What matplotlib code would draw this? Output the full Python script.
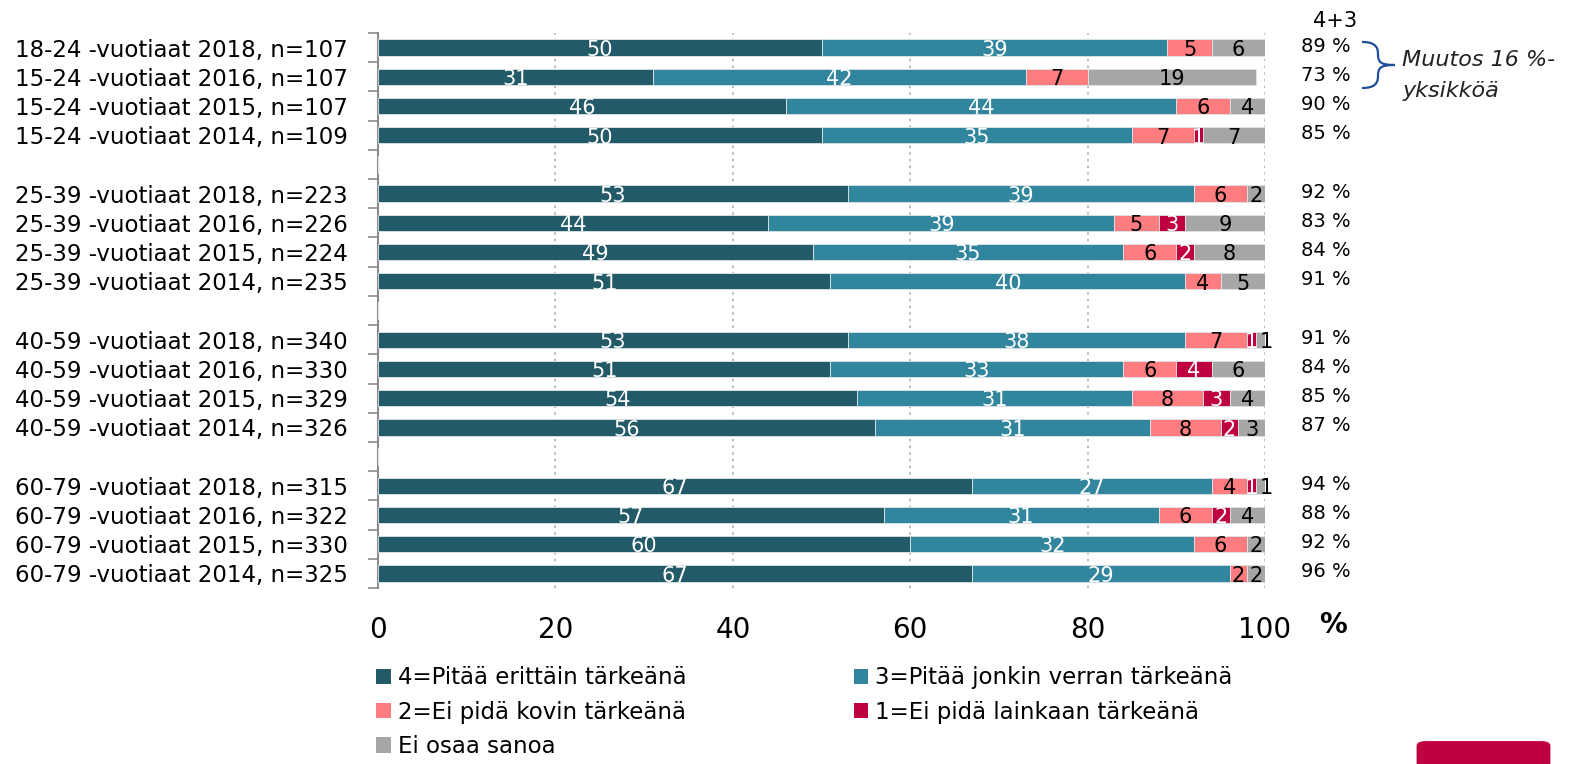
import numpy as np
import matplotlib.pyplot as plt
from matplotlib.patches import Patch, FancyBboxPatch, PathPatch
from matplotlib.path import Path

plt.rcParams['font.family'] = ['DejaVu Sans']

labels = [
    "18-24 -vuotiaat 2018, n=107", "15-24 -vuotiaat 2016, n=107",
    "15-24 -vuotiaat 2015, n=107", "15-24 -vuotiaat 2014, n=109", "",
    "25-39 -vuotiaat 2018, n=223", "25-39 -vuotiaat 2016, n=226",
    "25-39 -vuotiaat 2015, n=224", "25-39 -vuotiaat 2014, n=235", "",
    "40-59 -vuotiaat 2018, n=340", "40-59 -vuotiaat 2016, n=330",
    "40-59 -vuotiaat 2015, n=329", "40-59 -vuotiaat 2014, n=326", "",
    "60-79 -vuotiaat 2018, n=315", "60-79 -vuotiaat 2016, n=322",
    "60-79 -vuotiaat 2015, n=330", "60-79 -vuotiaat 2014, n=325",
]
v4 = [50, 31, 46, 50, 0, 53, 44, 49, 51, 0, 53, 51, 54, 56, 0, 67, 57, 60, 67]
v3 = [39, 42, 44, 35, 0, 39, 39, 35, 40, 0, 38, 33, 31, 31, 0, 27, 31, 32, 29]
v2 = [5, 7, 6, 7, 0, 6, 5, 6, 4, 0, 7, 6, 8, 8, 0, 4, 6, 6, 2]
v1 = [0, 0, 0, 1, 0, 0, 3, 2, 0, 0, 1, 4, 3, 2, 0, 1, 2, 0, 0]
veos = [6, 19, 4, 7, 0, 2, 9, 8, 5, 0, 1, 6, 4, 3, 0, 1, 4, 2, 2]
sum43 = ["89 %", "73 %", "90 %", "85 %", "", "92 %", "83 %", "84 %", "91 %", "",
         "91 %", "84 %", "85 %", "87 %", "", "94 %", "88 %", "92 %", "96 %"]

series = [v4, v3, v2, v1, veos]
names = ["4=Pitää erittäin tärkeänä", "3=Pitää jonkin verran tärkeänä",
         "2=Ei pidä kovin tärkeänä", "1=Ei pidä lainkaan tärkeänä", "Ei osaa sanoa"]
colors = ["#235A68", "#31859C", "#FF7C80", "#BE0041", "#A6A6A6"]
txtcol = ["white", "white", "black", "white", "black"]

fig = plt.figure(figsize=(15.74, 7.64), dpi=100)
ax = fig.add_axes([0.2402, 0.2304, 0.5635, 0.7264])

y = np.arange(len(labels))
left = np.zeros(len(labels))
for vals, c, tc in zip(series, colors, txtcol):
    vals = np.array(vals, dtype=float)
    bars = ax.barh(y, vals, left=left, height=0.56, color=c, edgecolor="#dde6ea",
                   linewidth=0.6, zorder=3)
    for yi, (l, v) in enumerate(zip(left, vals)):
        if v > 0:
            xpos = l + v / 2
            if v == 1 and c == "#A6A6A6":
                xpos = 100.1
            t = ax.text(xpos, yi + 0.08, f"{int(v)}", ha="center", va="center",
                        color=tc, fontsize=15, zorder=4)
            if v == 1 and c == "#BE0041":
                t.set_clip_path(bars[yi])
    left += vals

ax.set_ylim(len(labels) - 0.5, -0.5)
ax.set_xlim(0, 100)
ax.set_yticks(y)
ax.set_yticklabels(labels, fontsize=16.5)
ax.set_yticks(np.arange(-0.5, len(labels), 1), minor=True)
ax.tick_params(axis="y", which="major", length=0, pad=22)
ax.tick_params(axis="y", which="minor", length=7, color="#8c8c8c", width=1.2)
ax.set_xticks([0, 20, 40, 60, 80, 100])
ax.tick_params(axis="x", length=0, labelsize=20, pad=20)
for s in ["top", "right", "bottom"]:
    ax.spines[s].set_visible(False)
ax.spines["left"].set_color("#8c8c8c")
ax.spines["left"].set_linewidth(1.5)
ax.xaxis.grid(True, linestyle=(0, (1.5, 2.5)), color="#b0b0b0", linewidth=1.2, zorder=0)
ax.set_axisbelow(True)

fig.text(0.847, 0.182, "%", fontsize=20, fontweight="bold", ha="center", va="center")

# 4+3 column
fig.text(0.848, 0.972, "4+3", fontsize=15, ha="center", va="center")
for yi, s in enumerate(sum43):
    if s:
        ax.text(1.069, yi - 0.05, s, transform=ax.get_yaxis_transform(),
                fontsize=14, ha="center", va="center")

# brace (pixel coords -> figure fraction)
W, H = 1574.0, 764.0
pts = [(1362, 42), (1374, 42), (1378, 46), (1378, 54),
       (1378, 62), (1380, 65), (1395, 65),
       (1380, 65), (1378, 68), (1378, 76),
       (1378, 84), (1374, 88), (1362, 88)]
verts = [(px / W, 1 - py / H) for px, py in pts]
codes = [Path.MOVETO] + [Path.CURVE4] * 12
fig.patches.append(PathPatch(Path(verts, codes), transform=fig.transFigure, facecolor="none",
                             edgecolor="#1F4E99", linewidth=1.6))
fig.text(0.891, 0.921, "Muutos 16 %-", fontsize=16, style="italic", color="#222222", va="center")
fig.text(0.891, 0.881, "yksikköä", fontsize=16, style="italic", color="#222222", va="center")

handles = [Patch(facecolor=c, edgecolor="none") for c in colors]
order = [0, 2, 4, 1, 3]
fig.legend([handles[i] for i in order], [names[i] for i in order], ncol=2,
           loc="upper left", bbox_to_anchor=(0.233, 0.14), frameon=False,
           fontsize=16.5, handlelength=0.65, handleheight=0.65, handletextpad=0.3,
           columnspacing=7.3, labelspacing=0.5, borderaxespad=0)

# logo
fig.patches.append(FancyBboxPatch((0.9, -0.02), 0.085, 0.05, boxstyle="round,pad=0,rounding_size=0.006",
                                  transform=fig.transFigure, facecolor="#BE0041", edgecolor="none"))

fig.savefig("out.png", dpi=100)
